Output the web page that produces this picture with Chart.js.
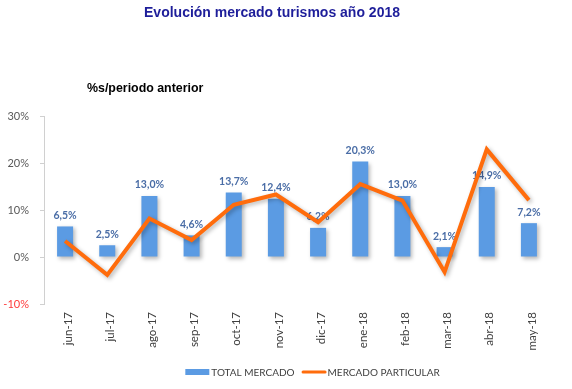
<!DOCTYPE html>
<html>
<head>
<meta charset="utf-8">
<script src="https://cdn.jsdelivr.net/npm/chart.js@4/dist/chart.umd.min.js"></script>
<style>
  html, body { margin: 0; padding: 0; background: #ffffff; }
  #wrap { width: 572px; height: 389px; position: relative; }
</style>
</head>
<body>
<div id="wrap"><canvas id="c" width="572" height="389"></canvas></div>
<script>
const titleText = "Evolución mercado turismos año 2018";
const subtitleText = "%s/periodo anterior";
const categories = ["jun-17","jul-17","ago-17","sep-17","oct-17","nov-17","dic-17","ene-18","feb-18","mar-18","abr-18","may-18"];
const totalMercado = [6.5, 2.5, 13.0, 4.6, 13.7, 12.4, 6.2, 20.3, 13.0, 2.1, 14.9, 7.2];
const mercadoParticular = [3.4, -3.8, 8.2, 3.6, 11.1, 13.3, 7.4, 15.5, 12.0, -3.2, 22.9, 12.1];
const seriesNames = ["TOTAL MERCADO", "MERCADO PARTICULAR"];
const yTicks = [-10, 0, 10, 20, 30];

const BLUE = "#5B9BE3";
const ORANGE = "#FF6C0C";

const textPlugin = {
  id: "texts",
  afterDraw(chart) {
    const ctx = chart.ctx;
    ctx.save();
    ctx.fillStyle = "#1E1E9A";
    ctx.font = "bold 14px 'Liberation Sans'";
    ctx.textAlign = "center";
    ctx.textBaseline = "middle";
    ctx.fillText(titleText, 272, 13);
    ctx.fillStyle = "#000000";
    ctx.font = "bold 12.4px 'Liberation Sans'";
    ctx.textAlign = "left";
    ctx.fillText(subtitleText, 87, 89);

    // legend
    const ds = chart.data.datasets;
    ctx.font = "10px Lato";
    ctx.textBaseline = "middle";
    const w0 = ctx.measureText(ds[0].label).width;
    const w1 = ctx.measureText(ds[1].label).width;
    const total = 24 + 2 + w0 + 7 + 25 + 1 + w1;
    let x = 312.5 - total / 2;
    const y = 372;
    ctx.fillStyle = ds[0].backgroundColor;
    ctx.fillRect(x, y - 3, 24, 6);
    x += 26;
    ctx.fillStyle = "#404040";
    ctx.fillText(ds[0].label, x, y + 0.5);
    x += w0 + 7;
    ctx.strokeStyle = ds[1].borderColor;
    ctx.lineWidth = 3;
    ctx.lineCap = "round";
    ctx.beginPath();
    ctx.moveTo(x + 1.5, y);
    ctx.lineTo(x + 23.5, y);
    ctx.stroke();
    x += 26;
    ctx.fillText(ds[1].label, x, y + 0.5);
    ctx.restore();
  }
};

const shadowLabelPlugin = {
  id: "shadowLabels",
  beforeDatasetDraw(chart, args) {
    const ctx = chart.ctx;
    ctx.save();
    ctx.shadowColor = "rgba(0,0,0,0.28)";
    ctx.shadowBlur = 4;
    ctx.shadowOffsetX = 2;
    ctx.shadowOffsetY = 2;
  },
  afterDatasetDraw(chart, args) {
    const ctx = chart.ctx;
    ctx.restore();
    if (args.index !== 0) return;
    const meta = chart.getDatasetMeta(0);
    ctx.save();
    ctx.fillStyle = "#4A6DA6";
    ctx.font = "bold 10.5px Lato";
    ctx.textAlign = "center";
    ctx.textBaseline = "middle";
    meta.data.forEach((bar, i) => {
      const v = totalMercado[i];
      ctx.fillText(v.toFixed(1).replace(".", ",") + "%", bar.x, bar.y - 11);
    });
    ctx.restore();
  }
};

new Chart(document.getElementById("c"), {
  data: {
    labels: categories,
    datasets: [
      {
        type: "bar",
        label: seriesNames[0],
        data: totalMercado,
        backgroundColor: BLUE,
        borderWidth: 0,
        barPercentage: 0.38,
        categoryPercentage: 1,
        order: 2
      },
      {
        type: "line",
        label: seriesNames[1],
        data: mercadoParticular,
        borderColor: ORANGE,
        backgroundColor: ORANGE,
        borderWidth: 4,
        pointRadius: 0,
        tension: 0,
        borderJoinStyle: "miter",
        order: 1
      }
    ]
  },
  options: {
    responsive: false,
    animation: false,
    events: [],
    layout: { padding: { top: 116, left: 0, right: 22, bottom: 34 } },
    plugins: {
      title: { display: false },
      tooltip: { enabled: false },
      legend: { display: false }
    },
    scales: {
      x: {
        grid: { display: false, drawTicks: false },
        border: { display: false },
        ticks: {
          color: "#404040",
          font: { family: "Lato", size: 11.5 },
          maxRotation: 90,
          minRotation: 90,
          padding: 8,
          labelOffset: 3,
          autoSkip: false
        },
        afterFit(scale) { scale.height = 51; }
      },
      y: {
        min: yTicks[0],
        max: yTicks[yTicks.length - 1],
        afterBuildTicks(scale) { scale.ticks = yTicks.map(v => ({ value: v })); },
        grid: { display: true, drawOnChartArea: false, drawTicks: true, tickLength: 4, color: "#D0D0D0" },
        border: { display: true, color: "#D0D0D0" },
        ticks: {
          color: (c) => c.tick && c.tick.value < 0 ? "#FF3B3B" : "#595959",
          font: { family: "Lato", size: 11 },
          padding: 11,
          callback: (v) => v + "%"
        },
        afterFit(scale) { scale.width = 44; }
      }
    }
  },
  plugins: [textPlugin, shadowLabelPlugin]
});
</script>
</body>
</html>
